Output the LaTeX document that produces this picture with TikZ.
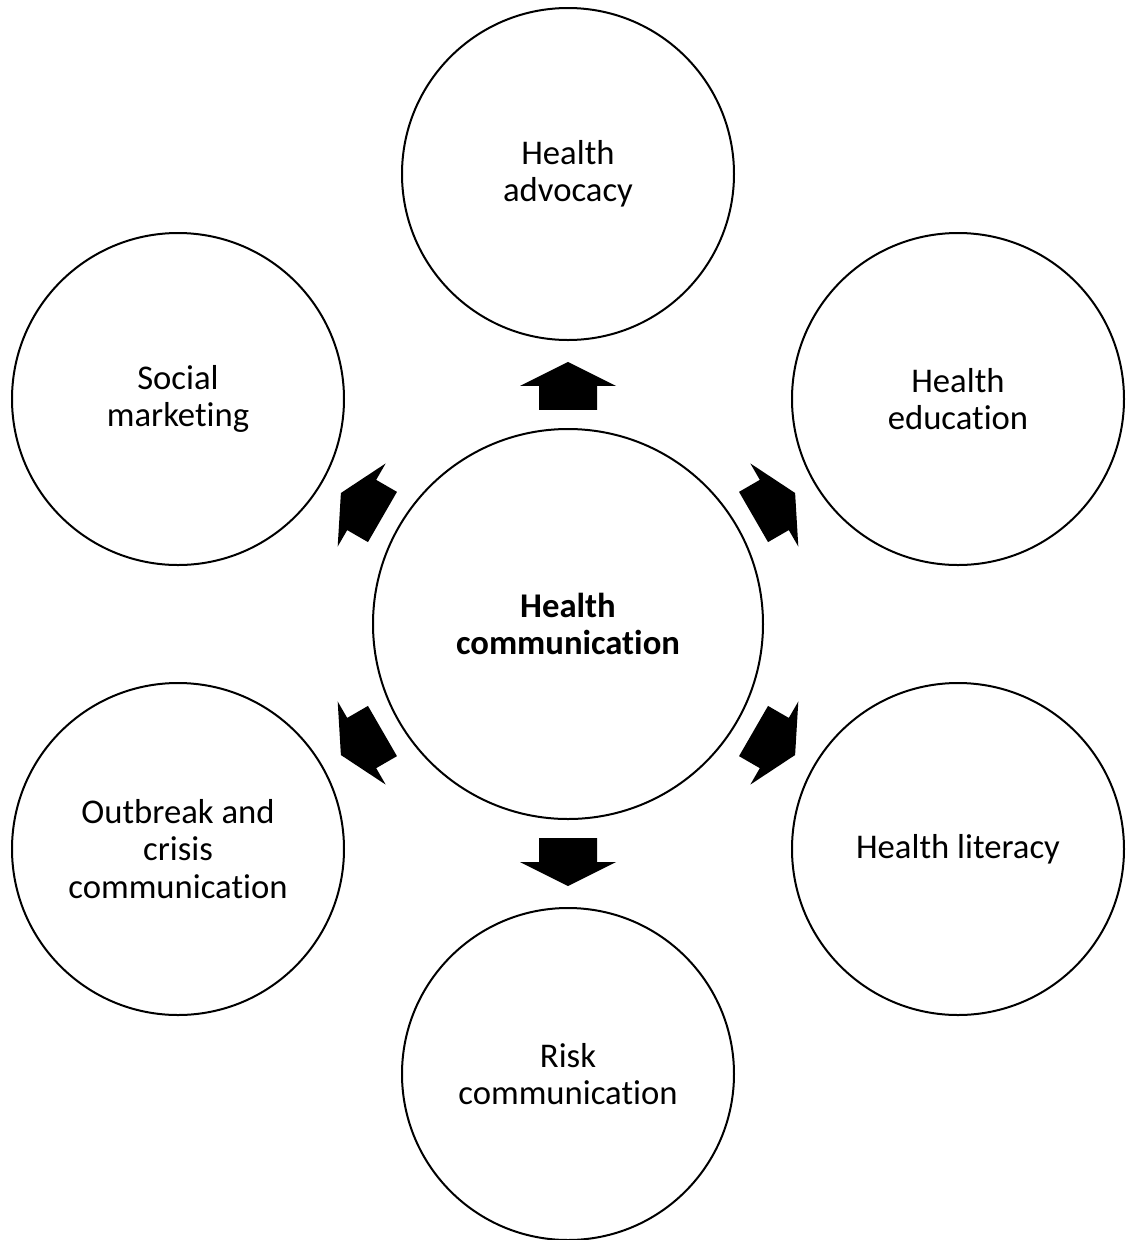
\documentclass[tikz,border=0pt]{standalone}
\usepackage{fontspec}
\setmainfont{Carlito}[Ligatures={NoCommon}]
\usetikzlibrary{calc}

\tikzset{
  topic/.style={draw, circle, line width=1.5pt, minimum size=249pt, inner sep=0pt,
    align=center, font=\fontsize{26}{28}\selectfont},
  hubtopic/.style={topic, minimum size=292.5pt, font=\fontsize{26}{28}\selectfont\bfseries},
  blockarr/.pic={\fill (-24,-29) -- (0,-29) -- (0,-48) -- (24,0) -- (0,48) -- (0,29) -- (-24,29) -- cycle;}
}

\begin{document}
\begin{tikzpicture}[x=0.75pt,y=0.75pt,yscale=-1,xscale=1]
\useasboundingbox (0,0) rectangle (1131,1240);

% Hub
\node [hubtopic] (hub) at (568,624) {Health\\communication};

% Outer circles
\node [topic] (adv) at (568,174) {Health\\advocacy};
\node [topic] (edu) at (958,399) {Health\\education};
\node [topic] (lit) at (958,849) {Health literacy};
\node [topic] (risk) at (568,1074) {Risk\\communication};
\node [topic] (outb) at (178,849) {Outbreak and\\crisis\\communication};
\node [topic] (soc) at (178,399) {Social\\marketing};

% Block arrows
\foreach \n/\a in {adv/90,edu/30,lit/-30,risk/-90,outb/-150,soc/150}
  \pic [rotate=\a] at ($(hub)!0.529!(\n)$) {blockarr};

\end{tikzpicture}
\end{document}
